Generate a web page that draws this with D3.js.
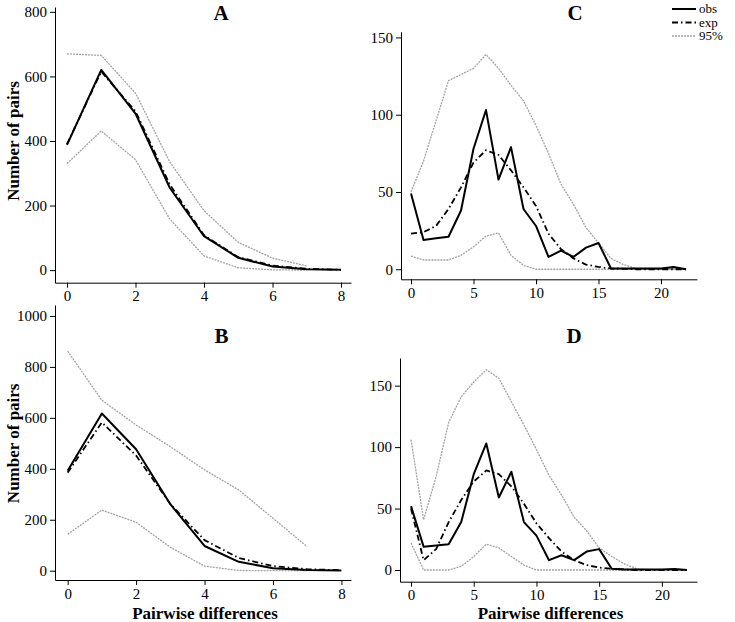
<!DOCTYPE html>
<html>
<head>
<meta charset="utf-8">
<script src="https://cdn.jsdelivr.net/npm/d3@7"></script>
<style>
	body { margin: 0; background: #fff; }
	svg { display: block; font-family: "Liberation Serif", "Times New Roman", Times, serif; }
	svg text { font-family: "Liberation Serif", "Times New Roman", Times, serif; }
</style>
</head>
<body>
<svg id="chart" width="735" height="622"></svg>
<script>
// values, index = number of pairwise differences
var aObs = [388, 620, 485, 255, 105, 38, 11, 3, 1];
var aExp = [390, 615, 492, 265, 108, 40, 14, 4, 1];
var aHi  = [670, 665, 548, 335, 184, 86, 37, 13];
var aLo  = [330, 431, 342, 158, 44, 7, 1, 0];

var bObs = [392, 617, 477, 261, 97, 35, 10, 3, 1];
var bExp = [385, 582, 452, 262, 120, 50, 18, 6, 2];
var bHi  = [862, 669, 572, 487, 396, 317, 206, 94];
var bLo  = [143, 238, 190, 92, 18, 1, 0, 0];

var cObs = [49, 19, 20, 21, 38, 78, 103, 58, 79, 39, 28, 8, 12, 8, 14, 17, 0.5, 0.5, 0.5, 0.5, 0.5, 1.5, 0];
var cExp = [23, 24, 28, 39, 53, 69, 77, 74, 64, 53, 41, 23, 13, 7, 3, 1.5, 0.5, 0.3, 0, 0, 0, 0, 0];
var cHi  = [50, 70, 96, 122, 126, 130, 139, 130, 119, 109, 93, 75, 55, 42, 27, 17, 7, 3, 0.6, 0, 0, 0, 0];
var cLo  = [8.5, 6, 6, 6, 9, 14.5, 21.5, 23.5, 9, 2.5, 0, 0, 0, 0, 0, 0, 0, 0, 0, 0, 0, 0, 0];

var dObs = [52, 19, 20, 21, 39, 78, 103, 59, 80, 39, 28, 8, 12, 8, 15, 17, 1, 0.5, 0.5, 0.5, 0.5, 0.8, 0];
var dExp = [50, 8, 17, 39, 57, 72, 81, 78, 68, 54, 38, 26, 15, 8, 4, 2, 1, 0.5, 0, 0, 0, 0, 0];
var dHi  = [106, 41, 76, 120, 141, 153, 163, 156, 137, 118, 98, 77, 61, 43, 32, 18, 11, 5, 1, 0, 0, 0, 0];
var dLo  = [22, 0, 0, 0, 3, 11, 21, 18, 11, 4, 0, 0, 0, 0, 0, 0, 0, 0, 0, 0, 0, 0, 0];

var panelNames = ["A", "B", "C", "D"];
var abTicksX = [0, 2, 4, 6, 8];
var cdTicksX = [0, 5, 10, 15, 20];
var aTicksY = [0, 200, 400, 600, 800];
var bTicksY = [0, 200, 400, 600, 800, 1000];
var cdTicksY = [0, 50, 100, 150];
var legendLabels = ["obs", "exp", "95%"];

var svg = d3.select("#chart");
var FONT = "Liberation Serif";

var styles = {
	obs: { stroke: "#000", width: 2, dash: null },
	exp: { stroke: "#000", width: 1.8, dash: "6,3,1.5,3" },
	ci:  { stroke: "#a3a3a3", width: 1.3, dash: "2,1" }
};

var panels = [
	{ name: panelNames[0], obs: aObs, exp: aExp, hi: aHi, lo: aLo,
	  xd: [-0.35, 8.29], xr: [55, 351], yd: [-39, 815], yr: [282.7, 7],
	  tx: abTicksX, ty: aTicksY, title: [221, 19.5], ylab: true, xlab: false },
	{ name: panelNames[1], obs: bObs, exp: bExp, hi: bHi, lo: bLo,
	  xd: [-0.37, 8.28], xr: [55, 351], yd: [-36.5, 1043], yr: [580, 305],
	  tx: abTicksX, ty: bTicksY, title: [221.5, 342.5], ylab: true, xlab: true },
	{ name: panelNames[2], obs: cObs, exp: cExp, hi: cHi, lo: cLo,
	  xd: [-0.8, 22.88], xr: [401, 697], yd: [-6.5, 153.7], yr: [279.3, 31.7],
	  tx: cdTicksX, ty: cdTicksY, title: [575, 20], ylab: false, xlab: false },
	{ name: panelNames[3], obs: dObs, exp: dExp, hi: dHi, lo: dLo,
	  xd: [-0.88, 22.8], xr: [400, 697], yd: [-9.5, 172.5], yr: [581.7, 358],
	  tx: cdTicksX, ty: cdTicksY, title: [574, 343], ylab: false, xlab: true }
];

function drawPanel(p) {
	var x = d3.scaleLinear().domain(p.xd).range(p.xr);
	var y = d3.scaleLinear().domain(p.yd).range(p.yr);
	var g = svg.append("g").attr("class", "panel");

	var line = d3.line().x((d, i) => x(i)).y(d => y(d));

	function addLine(values, st) {
		g.append("path")
			.datum(values)
			.attr("d", line)
			.attr("fill", "none")
			.attr("stroke", st.stroke)
			.attr("stroke-width", st.width)
			.attr("stroke-dasharray", st.dash)
			.attr("stroke-linejoin", "round");
	}

	addLine(p.hi, styles.ci);
	addLine(p.lo, styles.ci);
	addLine(p.exp, styles.exp);
	addLine(p.obs, styles.obs);

	var xAxis = g.append("g")
		.attr("transform", `translate(0,${ p.yr[0] })`)
		.call(d3.axisBottom(x).tickValues(p.tx).tickFormat(d3.format("d"))
			.tickSize(5).tickSizeOuter(0).tickPadding(3));
	var yAxis = g.append("g")
		.attr("transform", `translate(${ p.xr[0] },0)`)
		.call(d3.axisLeft(y).tickValues(p.ty).tickFormat(d3.format("d"))
			.tickSize(5).tickSizeOuter(0).tickPadding(3));

	[xAxis, yAxis].forEach(a => {
		a.attr("font-family", FONT).attr("font-size", 15);
		a.selectAll("text").attr("fill", "#000");
		a.selectAll("line, path").attr("stroke", "#000");
	});

	g.append("text").text(p.name)
		.attr("x", p.title[0]).attr("y", p.title[1])
		.attr("font-family", FONT).attr("font-size", 21).attr("font-weight", 700)
		.attr("text-anchor", "middle");

	if (p.ylab) {
		var cy = (y(p.ty[0]) + y(p.ty[p.ty.length - 1])) / 2;
		g.append("text").text("Number of pairs")
			.attr("transform", `translate(19,${ cy }) rotate(-90)`)
			.attr("font-family", FONT).attr("font-size", 17).attr("font-weight", 700)
			.attr("text-anchor", "middle");
	}
	if (p.xlab) {
		g.append("text").text("Pairwise differences")
			.attr("x", (p.xr[0] + p.xr[1]) / 2 + 2).attr("y", 619)
			.attr("font-family", FONT).attr("font-size", 17).attr("font-weight", 700)
			.attr("text-anchor", "middle");
	}
}

panels.forEach(drawPanel);

// legend, top right
var legend = svg.append("g").attr("class", "legend");
var legendStyles = [styles.obs, styles.exp, styles.ci];
legendLabels.forEach((lab, i) => {
	var ly = 9 + i * 13.5;
	var st = legendStyles[i];
	legend.append("line")
		.attr("x1", 672).attr("x2", 696).attr("y1", ly).attr("y2", ly)
		.attr("stroke", st.stroke).attr("stroke-width", st.width)
		.attr("stroke-dasharray", st.dash);
	legend.append("text").text(lab)
		.attr("x", 699).attr("y", ly + 4)
		.attr("font-family", FONT).attr("font-size", 13);
});
</script>
</body>
</html>
